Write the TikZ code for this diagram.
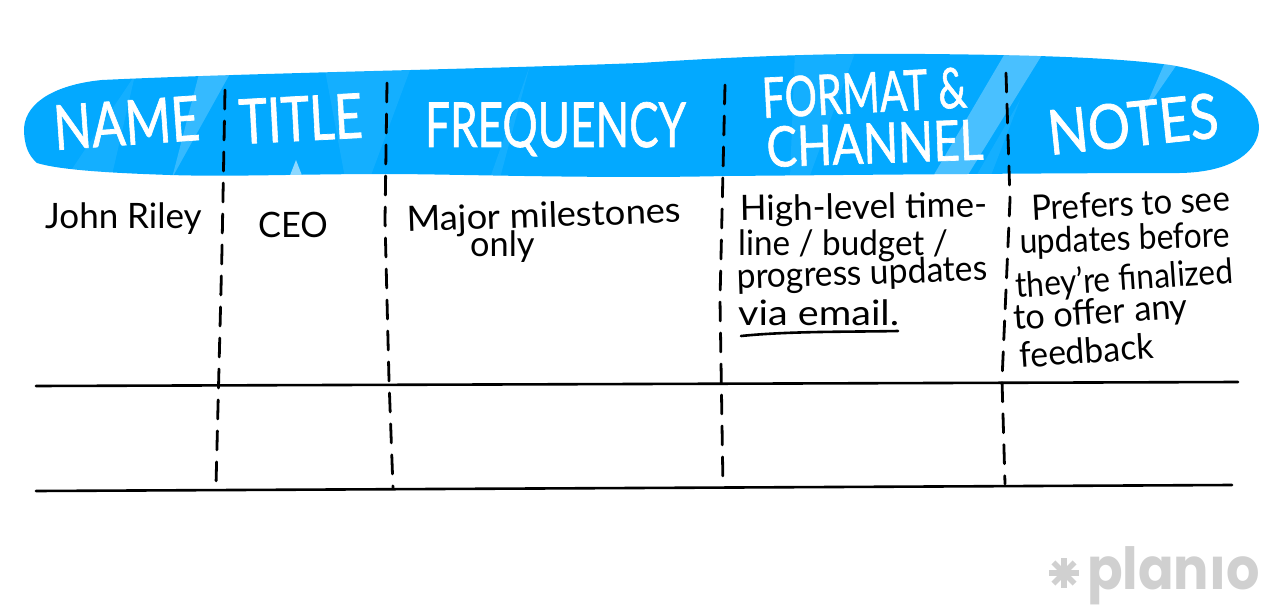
\documentclass[tikz,border=0pt]{standalone}
\usepackage{fontspec}
\setmainfont{Lato}
\newfontfamily\headfont{Lato}[FakeBold=1.2]
\newfontfamily\logofont{Poppins}[Scale=1]
\definecolor{headblue}{RGB}{3, 169, 255}
\definecolor{logogray}{RGB}{208, 208, 208}
\tikzset{
  headtxt/.style={anchor=base west, inner sep=0pt, text=white, font=\headfont\fontsize{62}{62}\selectfont},
  bodytxt/.style={anchor=base west, inner sep=0pt, text=black, font=\fontsize{35}{35}\selectfont},
  rowline/.style={line width=2.6pt, line cap=round},
  coldash/.style={line width=2.8pt, line cap=round, dash pattern=on 19pt off 12pt},
  shine/.style={white, opacity=0.07}
}

\begin{document}
\begin{tikzpicture}[x=1pt, y=-1pt]
  \useasboundingbox (0, 0) rectangle (1280, 615);

  % Header band
  \def\bandpath{(24,128) .. controls (26,100) and (60,84) .. (102,80)
    .. controls (250,73) and (450,70) .. (640,63)
    .. controls (760,55) and (850,53) .. (925,54)
    .. controls (1040,55) and (1120,58) .. (1170,65)
    .. controls (1215,72) and (1258,92) .. (1259,128)
    .. controls (1258,150) and (1235,172) .. (1180,173)
    .. controls (1050,173) and (850,175) .. (725,176)
    .. controls (600,179) and (450,174) .. (387,174)
    .. controls (300,174) and (230,177) .. (170,175)
    .. controls (110,173) and (60,170) .. (37,163)
    .. controls (28,155) and (24,145) .. (24,128) -- cycle}
  \fill[headblue] \bandpath;
  \begin{scope}
    \clip \bandpath;
    \fill[white, opacity=0.2] (200,70) -- (232,70) -- (172,178) -- cycle;
    \fill[shine] (135,75) -- (112,175) -- (68,175) -- cycle;
    \fill[shine] (325,70) -- (410,70) -- (370,178) -- (345,178) -- cycle;
    \fill[white, opacity=0.55] (296,160) -- (289,178) -- (303,178) -- cycle;
    \fill[shine] (530,65) -- (490,178) -- (500,178) -- cycle;
    \fill[shine] (795,50) -- (856,50) -- (809,178) -- (790,178) -- cycle;
    \fill[white, opacity=0.28] (1007,50) -- (1045,50) -- (966,178) -- (932,178) -- cycle;
    \fill[shine] (1020,100) -- (975,178) -- (990,178) -- cycle;
    \fill[white, opacity=0.25] (1166,60) -- (1180,60) -- (1142,115) -- cycle;
  \end{scope}

  % Column heads
  \node[headtxt, rotate=4, xscale=0.80] (name) at (55, 150) {NAME};
  \node[headtxt, rotate=3, xscale=0.78] (title) at (240, 144) {TITLE};
  \node[headtxt, xscale=0.71] (frequency) at (425, 147) {FREQUENCY};
  \node[headtxt, rotate=3, xscale=0.65, yscale=0.9] (format) at (763, 118) {FORMAT \&};
  \node[headtxt, rotate=2, xscale=0.74, yscale=0.9] (channel) at (767, 167) {CHANNEL};
  \node[headtxt, rotate=6, xscale=0.85] (notes) at (1050, 155) {NOTES};

  % Cells
  \node[bodytxt] (john) at (45, 228) {John Riley};
  \node[bodytxt, xscale=0.98] (ceo) at (258, 237) {CEO};
  \node[bodytxt, rotate=2, xscale=1.04] (major) at (407, 232) {Major milestones};
  \node[bodytxt, xscale=0.98] (only) at (470, 256) {only};
  \node[bodytxt, rotate=1] (high) at (740, 221) {High-level time-};
  \node[bodytxt, xscale=0.95] (budget) at (738, 255) {line / budget /};
  \node[bodytxt, rotate=2, xscale=0.96] (progress) at (737, 289) {progress updates};
  \node[bodytxt, xscale=1.13] (via) at (738, 325) {via email.};
  \node[bodytxt, rotate=3, xscale=0.94] (prefers) at (1032, 221) {Prefers to see};
  \node[bodytxt, rotate=2, xscale=0.91] (updates) at (1020, 254) {updates before};
  \node[bodytxt, rotate=4, xscale=0.90] (finalized) at (1016, 298) {they're finalized};
  \node[bodytxt, rotate=4, xscale=0.98] (offer) at (1014, 330) {to offer any};
  \node[bodytxt, rotate=4, xscale=0.96] (feedback) at (1020, 368) {feedback};

  % Underline
  \coordinate (ula) at (741, 336);
  \coordinate (ulb) at (898, 331);
  \draw[rowline] (ula) .. controls (790, 331) and (850, 332) .. (ulb);

  % Rows
  \coordinate (rowa1) at (36, 386);
  \coordinate (rowa2) at (1238, 382);
  \coordinate (rowb1) at (36, 491);
  \coordinate (rowb2) at (1232, 485);
  \draw[rowline] (rowa1) -- (rowa2);
  \draw[rowline] (rowb1) -- (rowb2);

  % Dashed columns
  \coordinate (cola1) at (225, 90);
  \coordinate (cola2) at (222, 250);
  \coordinate (cola3) at (216, 485);
  \coordinate (colb1) at (387, 83);
  \coordinate (colb2) at (385, 220);
  \coordinate (colb3) at (389, 380);
  \coordinate (colb4) at (393, 488);
  \coordinate (colc1) at (725, 85);
  \coordinate (colc2) at (720, 300);
  \coordinate (colc3) at (723, 487);
  \coordinate (cold1) at (1006, 73);
  \coordinate (cold2) at (1010, 200);
  \coordinate (cold3) at (1002, 380);
  \coordinate (cold4) at (1005, 484);
  \draw[coldash] (cola1) -- (cola2) -- (cola3);
  \draw[coldash] (colb1) -- (colb2) -- (colb3) -- (colb4);
  \draw[coldash] (colc1) -- (colc2) -- (colc3);
  \draw[coldash] (cold1) -- (cold2) -- (cold3) -- (cold4);

  % Logo
  \foreach \a in {0, 45, ..., 315} {
    \draw[logogray, line width=5.5pt] (1064, 573) -- ++(\a:15);
  }
  \node[anchor=base west, inner sep=0pt, text=logogray, xscale=0.905, font=\logofont\bfseries\fontsize{58}{58}\selectfont] (planio) at (1087, 589) {plan\i o};
\end{tikzpicture}
\end{document}
